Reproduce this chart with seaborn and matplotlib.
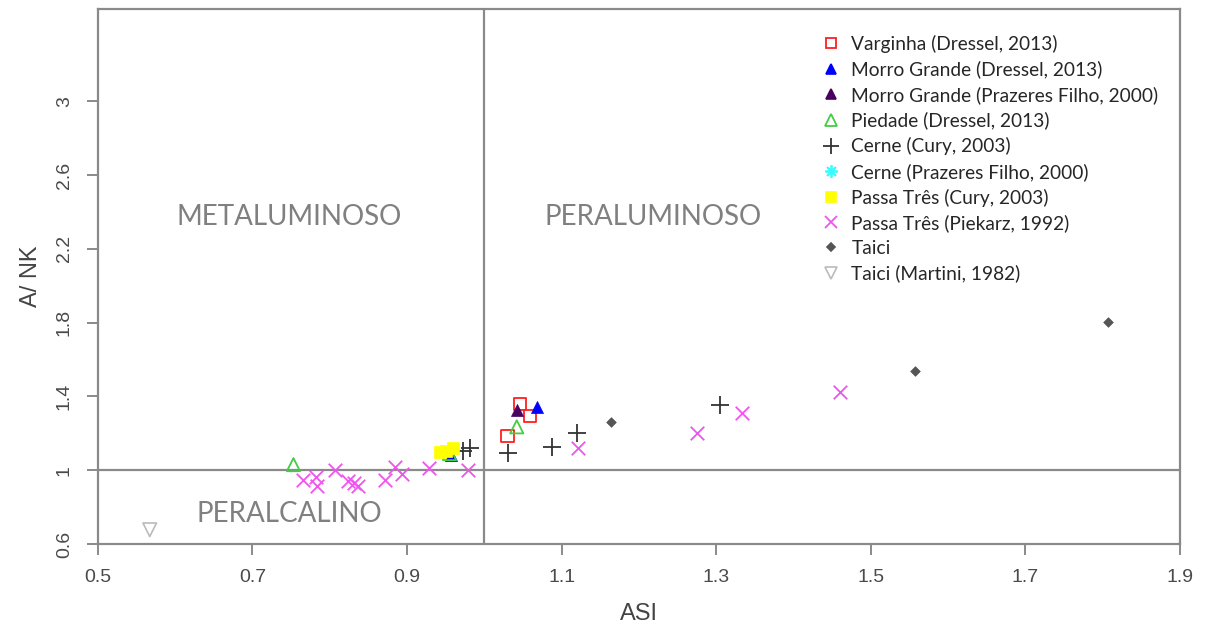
import matplotlib
matplotlib.use('Agg')
import matplotlib.pyplot as plt
from matplotlib.lines import Line2D
import pandas as pd
import seaborn as sns

# Diagrama de Shand (A/NK x ASI)
varginha_x = [1.030, 1.046, 1.059]
varginha_y = [1.186, 1.360, 1.295]

morro_dressel_x = [1.068, 0.957]
morro_dressel_y = [1.344, 1.080]

morro_prazeres_x = [1.042]
morro_prazeres_y = [1.326]

piedade_x = [0.753, 1.042, 0.955]
piedade_y = [1.030, 1.235, 1.090]

cerne_cury_x = [0.973, 0.982, 1.031, 1.088, 1.120, 1.305]
cerne_cury_y = [1.105, 1.121, 1.094, 1.126, 1.202, 1.354]

passa_cury_x = [0.943, 0.960, 0.950]
passa_cury_y = [1.099, 1.121, 1.105]

passa_piekarz_x = [0.765, 0.782, 0.783, 0.807, 0.824, 0.831, 0.837, 0.872,
                   0.885, 0.894, 0.928, 0.979, 1.121, 1.275, 1.333, 1.460]
passa_piekarz_y = [0.947, 0.964, 0.915, 1.000, 0.942, 0.931, 0.915, 0.947,
                   1.018, 0.980, 1.012, 1.000, 1.121, 1.200, 1.311, 1.425]

taici_x = [1.164, 1.558, 1.807]
taici_y = [1.262, 1.539, 1.805]

taici_martini_x = [0.567]
taici_martini_y = [0.677]

x_ticks = [0.5, 0.7, 0.9, 1.1, 1.3, 1.5, 1.7, 1.9]
y_ticks = [0.6, 1.0, 1.4, 1.8, 2.2, 2.6, 3.0]
y_tick_labels = ['0.6', '1', '1.4', '1.8', '2.2', '2.6', '3']

sns.set_style('white')
plt.rcParams['font.family'] = ['Liberation Sans', 'DejaVu Sans']

fig = plt.figure(figsize=(12.05, 6.28), dpi=100)
ax = fig.add_axes([0.0813, 0.1338, 0.8977, 0.852])

grey = '#8a8a8a'
ax.axvline(1.0, color=grey, lw=1.6, zorder=1)
ax.axhline(1.0, color=grey, lw=1.6, zorder=1)

# (label, x, y, marker, facecolor, edgecolor, size, linewidth)
series = [
    ('Varginha (Dressel, 2013)', varginha_x, varginha_y, 's', 'none', '#ff2020', 80, 1.3),
    ('Morro Grande (Dressel, 2013)', morro_dressel_x, morro_dressel_y, '^', '#0000ff', '#0000ff', 75, 0.5),
    ('Morro Grande (Prazeres Filho, 2000)', morro_prazeres_x, morro_prazeres_y, '^', '#4a0060', '#4a0060', 75, 0.5),
    ('Piedade (Dressel, 2013)', piedade_x, piedade_y, '^', 'none', '#44cc44', 90, 1.3),
    ('Cerne (Cury, 2003)', cerne_cury_x, cerne_cury_y, '+', '#333333', '#333333', 170, 1.3),
    ('Cerne (Prazeres Filho, 2000)', [], [], (8, 2, 0), '#33ffff', '#33ffff', 110, 1.3),
    ('Passa Três (Cury, 2003)', passa_cury_x, passa_cury_y, 's', '#ffff00', '#ffff00', 80, 0.5),
    ('Passa Três (Piekarz, 1992)', passa_piekarz_x, passa_piekarz_y, 'x', '#ee55ee', '#ee55ee', 95, 1.3),
    ('Taici', taici_x, taici_y, 'D', '#555555', '#555555', 24, 0.5),
    ('Taici (Martini, 1982)', taici_martini_x, taici_martini_y, 'v', 'none', '#bbbbbb', 95, 1.2),
]

handles = []
for label, xs, ys, marker, fc, ec, size, lw in series:
    if xs:
        df = pd.DataFrame({'ASI': xs, 'ANK': ys})
        if marker in ('+', 'x'):
            sns.scatterplot(data=df, x='ASI', y='ANK', ax=ax, marker=marker,
                            color=ec, s=size, linewidth=lw, zorder=3)
        else:
            sns.scatterplot(data=df, x='ASI', y='ANK', ax=ax, marker=marker,
                            facecolor=fc, edgecolor=ec, s=size, linewidth=lw, zorder=3)
    handles.append(Line2D([], [], linestyle='none', marker=marker,
                          markerfacecolor=fc, markeredgecolor=ec,
                          markersize=size ** 0.5 * 0.85, markeredgewidth=max(lw, 1.2),
                          label=label))

ax.set_xlim(0.5, 1.9)
ax.set_ylim(0.6, 3.5)
ax.set_xticks(x_ticks)
ax.set_xticklabels([f'{v:.1f}' for v in x_ticks])
ax.set_yticks(y_ticks)
ax.set_yticklabels(y_tick_labels)
for lbl in ax.get_yticklabels():
    lbl.set_rotation(90)
    lbl.set_va('center')

ax.tick_params(axis='both', direction='out', length=8, width=1.4, color=grey,
               labelcolor='#4a4a4a', labelsize=14, bottom=True, left=True, pad=10)
for sp in ax.spines.values():
    sp.set_color(grey)
    sp.set_linewidth(1.6)

ax.set_xlabel('ASI', fontsize=17, color='#444444', labelpad=12)
ax.set_ylabel('A/ NK', fontsize=17, color='#444444', labelpad=10)

region_font = dict(fontsize=20, color='#808080', ha='center', va='center',
                   family=['Lato', 'DejaVu Sans'])
ax.text(0.747, 2.37, 'METALUMINOSO', **region_font)
ax.text(1.218, 2.37, 'PERALUMINOSO', **region_font)
ax.text(0.747, 0.763, 'PERALCALINO', **region_font)

ax.legend(handles=handles, loc='upper left', bbox_to_anchor=(0.662, 0.966),
          frameon=False, prop={'family': ['Lato', 'DejaVu Sans'], 'size': 13.8},
          handlelength=1.0, handletextpad=0.55, labelspacing=0.4, borderaxespad=0)

fig.savefig('out.png', dpi=100)
